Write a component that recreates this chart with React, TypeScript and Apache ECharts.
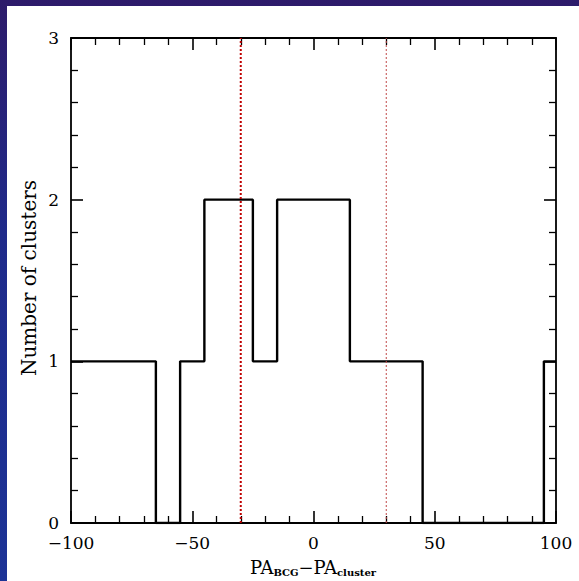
import React, { useEffect, useRef } from "react";
import * as echarts from "echarts";

// Histogram bins (centres, width 10) and counts
const binCenters = [-100, -90, -80, -70, -60, -50, -40, -30, -20, -10, 0, 10, 20, 30, 40, 50, 60, 70, 80, 90, 100];
const counts = [1, 1, 1, 1, 0, 1, 2, 2, 1, 2, 2, 2, 1, 1, 1, 0, 0, 0, 0, 0, 1];
// Reference vertical lines
const refLines = [-30, 30];
const xTicks = { min: -100, max: 100, interval: 50 };
const yTicks = { min: 0, max: 3, interval: 1 };
const xLabelMain = ["PA", "PA"];
const xLabelSubs = ["BCG", "cluster"];
const yLabel = "Number of clusters";

const FONT = "DejaVu Serif";

export default function App() {
  const ref = useRef<HTMLDivElement>(null);
  useEffect(() => {
    if (!ref.current) return;
    const chart = echarts.init(ref.current, null, { renderer: "svg" });
    const fmt = (v: number) => (v < 0 ? "\u2212" + Math.abs(v) : String(v));
    const baseAxis = {
      axisLine: { show: true, onZero: false, lineStyle: { color: "#000", width: 1.8 } },
      axisTick: { show: true, inside: true, length: 12, lineStyle: { color: "#000", width: 1.6 } },
      minorTick: { show: true, splitNumber: 5, length: 7, lineStyle: { color: "#000", width: 1.3 } },
      splitLine: { show: false },
      minorSplitLine: { show: false },
    };
    const histData = binCenters.map((x, i) => [x, counts[i]]);
    chart.setOption({
      animation: false,
      backgroundColor: "transparent",
      grid: { left: 71, top: 38, width: 485, height: 485, containLabel: false },
      xAxis: [
        {
          type: "value", position: "bottom", min: xTicks.min, max: xTicks.max, interval: xTicks.interval,
          ...baseAxis,
          axisLabel: { show: true, formatter: fmt, fontFamily: FONT, fontSize: 17, fontWeight: 500, color: "#000", margin: 11 },
        },
        {
          type: "value", position: "top", min: xTicks.min, max: xTicks.max, interval: xTicks.interval,
          ...baseAxis,
          axisLabel: { show: false },
        },
      ],
      yAxis: [
        {
          type: "value", position: "left", min: yTicks.min, max: yTicks.max, interval: yTicks.interval,
          ...baseAxis,
          axisLabel: { show: true, fontFamily: FONT, fontSize: 17, fontWeight: 500, color: "#000", margin: 12 },
        },
        {
          type: "value", position: "right", min: yTicks.min, max: yTicks.max, interval: yTicks.interval,
          ...baseAxis,
          axisLabel: { show: false },
        },
      ],
      series: [
        {
          type: "line",
          step: "middle",
          data: histData,
          showSymbol: false,
          symbol: "none",
          clip: true,
          lineStyle: { color: "#000", width: 2.4 },
          z: 3,
        },
        {
          type: "line",
          data: [[refLines[0], yTicks.min], [refLines[0], yTicks.max]],
          symbol: "none",
          lineStyle: { color: "#c00000", width: 2, type: [2, 2] },
          z: 4,
        },
        {
          type: "line",
          data: [[refLines[1], yTicks.min], [refLines[1], yTicks.max]],
          symbol: "none",
          lineStyle: { color: "#c04848", width: 1, type: [2, 2] },
          z: 4,
        },
      ],
      graphic: [
        {
          type: "text",
          x: 29,
          y: 278,
          rotation: Math.PI / 2,
          style: {
            text: yLabel,
            fontFamily: FONT,
            fontSize: 20,
            fill: "#000",
            align: "center",
            verticalAlign: "middle",
          },
        },
        {
          type: "text",
          x: 313,
          y: 567,
          style: {
            text: `{m|${xLabelMain[0]}}{s|${xLabelSubs[0]}}{m|\u2212${xLabelMain[1]}}{s|${xLabelSubs[1]}}`,
            align: "center",
            verticalAlign: "middle",
            rich: {
              m: { fontFamily: FONT, fontSize: 18, fill: "#000", lineHeight: 20, verticalAlign: "middle" },
              s: { fontFamily: FONT, fontSize: 10, fontWeight: "bold", fill: "#000", lineHeight: 20, verticalAlign: "bottom", padding: [4, 0, 0, 0] },
            },
          },
        },
      ],
    });
    return () => chart.dispose();
  }, []);
  return (
    <div
      style={{
        position: "fixed",
        left: 0,
        top: 0,
        width: 579,
        height: 581,
        background: "linear-gradient(to bottom, #2d1b6a 0%, #1f2a8a 40%, #1c3396 100%)",
      }}
    >
      <div style={{ position: "absolute", left: 7, top: 6, right: 0, bottom: 0, background: "#fff" }} />
      <div ref={ref} style={{ position: "absolute", left: 0, top: 0, width: 579, height: 581 }} />
    </div>
  );
}
